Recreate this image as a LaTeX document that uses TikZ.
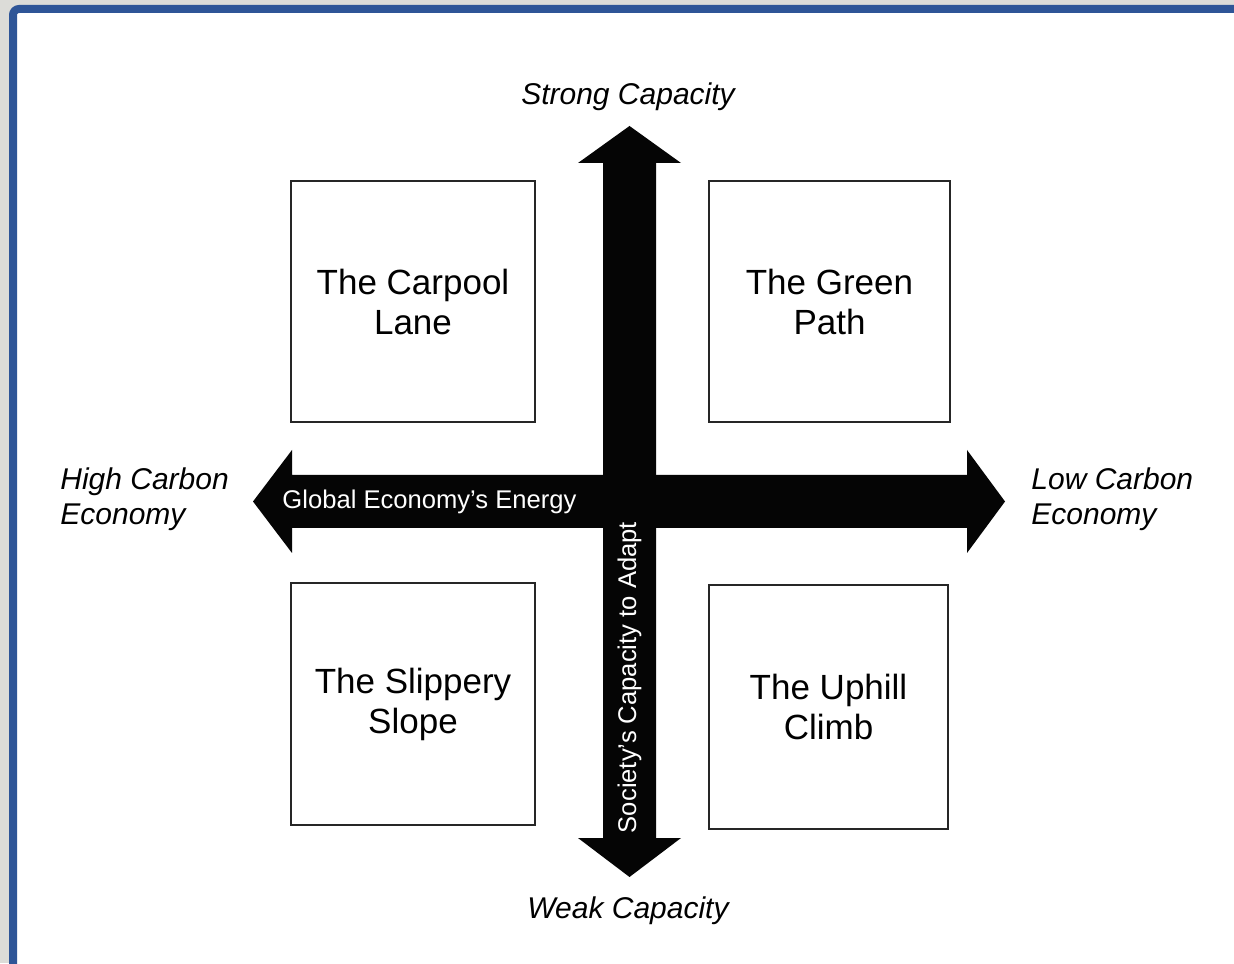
\documentclass[tikz,border=0pt]{standalone}
\usepackage{fontspec}
\setmainfont{Liberation Sans}
\definecolor{frame}{HTML}{2E5597}
\definecolor{paper}{HTML}{DCDCD8}
\definecolor{ink}{HTML}{050505}
\definecolor{edge}{HTML}{262626}
\newcommand{\boxfont}{\fontsize{17.5}{20}\selectfont}
\newcommand{\polefont}{\fontsize{15}{17.5}\selectfont\itshape}
\newcommand{\axisfont}{\fontsize{12.8}{15}\selectfont}

\begin{document}
\begin{tikzpicture}[x=0.5pt,y=0.5pt,font=\boxfont,
  scen/.style={draw=edge,line width=1pt,align=center,inner sep=0},
  pole/.style={inner sep=0,font=\polefont,align=left},
  axislbl/.style={inner sep=0,text=white,font=\axisfont}]
\useasboundingbox (0,0) rectangle (1234,963);
\clip (0,0) rectangle (1234,963);
\fill[paper] (0,0) rectangle (1234,963);
\fill[white] (13,-10) rectangle (1250,954);
\draw[frame,line width=4pt,rounded corners=3pt] (13,-10) -- (13,954) -- (1250,954);
% vertical axis
\fill[ink] (603,125) -- (603,800) -- (578,800) -- (629.5,837) -- (681,800) -- (656,800)
  -- (656,125) -- (681,125) -- (629.5,86) -- (578,125) -- cycle;
% horizontal axis
\fill[ink] (292,488) -- (967,488) -- (967,513) -- (1005,461.5) -- (967,410) -- (967,435)
  -- (292,435) -- (292,410) -- (253,461.5) -- (292,513) -- cycle;
\node[axislbl] (energy) at (429.5,461) {Global Economy's Energy};
\node[axislbl,rotate=90] (society) at (629.5,285.5) {Society's Capacity to Adapt};
% scenarios
\node[scen,minimum width=122pt,minimum height=120.5pt] (carpool) at (413,661.5) {The Carpool\\Lane};
\node[scen,minimum width=120.5pt,minimum height=120.5pt] (green) at (829.5,661.5) {The Green\\Path};
\node[scen,minimum width=122pt,minimum height=121pt] (slippery) at (413,259) {The Slippery\\Slope};
\node[scen,minimum width=119.5pt,minimum height=122pt] (uphill) at (828.5,256) {The Uphill\\Climb};
% poles
\node[pole] (strong) at (628,866) {Strong Capacity};
\node[pole] (weak) at (628,52) {Weak Capacity};
\node[pole,anchor=west] (highcarbon) at (60,463.5) {High Carbon\\Economy};
\node[pole,anchor=west] (lowcarbon) at (1031,463.5) {Low Carbon\\Economy};
\end{tikzpicture}
\end{document}
